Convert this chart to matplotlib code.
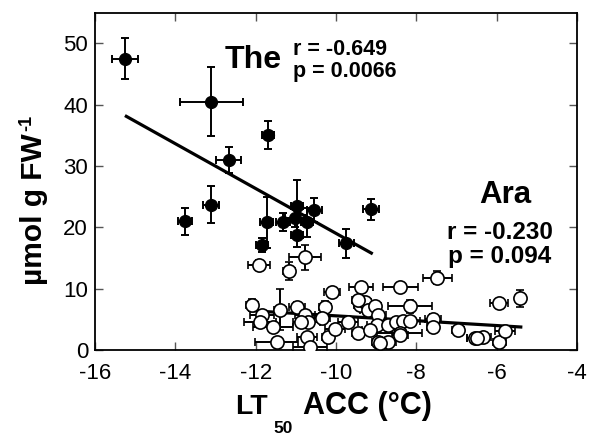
import matplotlib
matplotlib.use("Agg")
import matplotlib.pyplot as plt

plt.rcParams['font.family'] = ['Liberation Sans', 'DejaVu Sans']
plt.rcParams['axes.unicode_minus'] = False

# Thellungiella ("The") accessions: LT50 ACC (°C) vs content (µmol g FW-1)
the_x = [-15.25, -13.10, -11.69, -12.67, -13.11, -13.76, -11.73, -11.85,
         -11.32, -10.98, -11.02, -10.98, -10.54, -10.72, -9.74, -9.13]
the_y = [47.5, 40.5, 35.1, 31.0, 23.7, 21.0, 20.8, 17.1,
         20.9, 23.5, 21.5, 18.8, 22.8, 20.8, 17.4, 22.95]
the_xerr = [0.32, 0.78, 0.15, 0.31, 0.20, 0.18, 0.15, 0.15,
            0.17, 0.15, 0.25, 0.15, 0.19, 0.15, 0.19, 0.20]
the_yerr = [3.3, 5.6, 2.3, 2.1, 3.0, 2.2, 4.2, 1.2,
            1.5, 4.3, 1.5, 2.0, 2.0, 2.4, 2.4, 1.7]

# Arabidopsis ("Ara") accessions
ara_x = [-11.91, -11.17, -10.78, -10.10, -7.48, -8.40, -9.37, -5.94, -5.43,
         -6.34, -5.93, -5.80, -6.55, -12.10, -11.85, -11.90, -11.56, -11.40,
         -10.98, -10.78, -10.70, -10.86, -10.73, -11.48, -10.65, -10.28,
         -10.36, -10.20, -10.03, -9.70, -9.45, -9.41, -9.28, -9.20, -9.03,
         -8.95, -8.99, -9.16, -8.70, -8.50, -8.33, -8.16, -8.16, -8.41,
         -8.95, -8.70, -7.58, -7.58, -6.96, -6.50, -9.45, -8.90, -8.41]
ara_y = [13.9, 12.9, 15.1, 9.5, 11.8, 10.3, 10.3, 7.6, 8.4,
         2.1, 1.35, 3.15, 1.9, 7.3, 5.7, 4.6, 3.8, 6.6,
         7.0, 5.7, 4.6, 4.6, 2.2, 1.35, 0.55, 7.0,
         5.2, 2.2, 3.5, 4.6, 2.7, 7.3, 7.9, 6.5, 7.1,
         5.7, 4.1, 3.3, 4.1, 4.6, 4.8, 4.8, 7.1, 2.7,
         1.35, 1.35, 5.0, 3.8, 3.3, 1.9, 8.2, 1.1, 2.4]
ara_xerr = [0.27, 0.15, 0.40, 0.20, 0.36, 0.43, 0.30, 0.22, 0.10,
            0.20, 0.15, 0.25, 0.20, 0.15, 0.30, 0.40, 0.50, 0.15,
            0.20, 0.25, 0.30, 0.20, 0.25, 0.54, 0.43, 0.15,
            0.20, 0.15, 0.25, 0.25, 0.15, 0.15, 0.15, 0.20, 0.15,
            0.20, 0.25, 0.20, 0.20, 0.20, 0.20, 0.25, 0.54, 0.56,
            0.15, 0.20, 0.20, 0.15, 0.15, 0.25, 0.15, 0.15, 0.20]
ara_yerr = [0.8, 1.5, 2.1, 0.6, 1.1, 0.6, 0.6, 0.6, 1.4,
            0.6, 0.6, 0.6, 0.5, 1.0, 0.8, 0.6, 0.8, 3.4,
            0.8, 0.8, 0.6, 0.6, 0.6, 0.5, 0.4, 1.0,
            0.8, 0.6, 0.6, 0.6, 0.6, 0.8, 0.8, 0.8, 0.6,
            0.6, 0.6, 0.6, 0.6, 0.6, 0.6, 0.6, 1.1, 0.6,
            0.6, 0.6, 0.8, 0.6, 0.5, 0.5, 0.6, 0.5, 0.5]

# regression lines (end points)
the_fit_x = [-15.22, -9.12]
the_fit_y = [38.1, 15.8]
ara_fit_x = [-12.1, -5.4]
ara_fit_y = [6.4, 3.75]

the_stats = "r = -0.649\np = 0.0066"
ara_stats = "r = -0.230\np = 0.094"

fig = plt.figure(figsize=(6.0, 4.44), dpi=100)
ax = fig.add_axes([95/600, 1-350/444, (577-95)/600, (350-12.7)/444])

ax.errorbar(the_x, the_y, xerr=the_xerr, yerr=the_yerr, fmt='o', color='black',
            markersize=8.5, elinewidth=1.4, capsize=3.2, capthick=1.4, zorder=3)
ax.plot(the_fit_x, the_fit_y, color='black', lw=2.3, zorder=4)

ax.plot(ara_fit_x, ara_fit_y, color='black', lw=2.3, zorder=4.5)
ax.errorbar(ara_x, ara_y, xerr=ara_xerr, yerr=ara_yerr, fmt='o', color='black',
            markerfacecolor='white', markeredgecolor='black', markeredgewidth=1.2,
            markersize=9.5, elinewidth=1.4, capsize=3.2, capthick=1.4, zorder=5)

ax.set_xlim(-16, -4)
ax.set_ylim(0, 55)
ax.set_xticks([-16, -14, -12, -10, -8, -6, -4])
ax.set_yticks([0, 10, 20, 30, 40, 50])
ax.tick_params(direction='in', length=6, width=1, color='#555555',
               top=True, right=True, labelsize=16, pad=5)
ax.tick_params(axis='x', pad=9)
for s in ax.spines.values():
    s.set_linewidth(1.3)

ax.text(-12.77, 47.3, "The", fontsize=23, fontweight='bold', ha='left', va='center')
ax.text(-11.07, 47.2, the_stats, fontsize=15.5, fontweight='bold', ha='left',
        va='center', linespacing=1.05)
ax.text(-5.78, 25.3, "Ara", fontsize=22.5, fontweight='bold', ha='center', va='center')
ax.text(-5.93, 17.2, ara_stats, fontsize=17.5, fontweight='bold', ha='center',
        va='center', linespacing=1.05)

fig.text(34/600, 1 - 209/444, "µmol g FW", fontsize=21.5,
         fontweight='bold', rotation=90, ha='center', va='center')
fig.text(27/600, 1 - 131/444, "-1", fontsize=13,
         fontweight='bold', rotation=90, ha='center', va='bottom')

fig.text(235/600, 1 - 414/444, "LT", fontsize=20.5, fontweight='bold', ha='left', va='baseline')
fig.text(273/600, 1 - 433/444, "50", fontsize=12.5, fontweight='bold', ha='left', va='baseline')
fig.text(303/600, 1 - 414/444, "ACC (°C)", fontsize=22, fontweight='bold', ha='left', va='baseline')

fig.savefig("out.png", dpi=100)
